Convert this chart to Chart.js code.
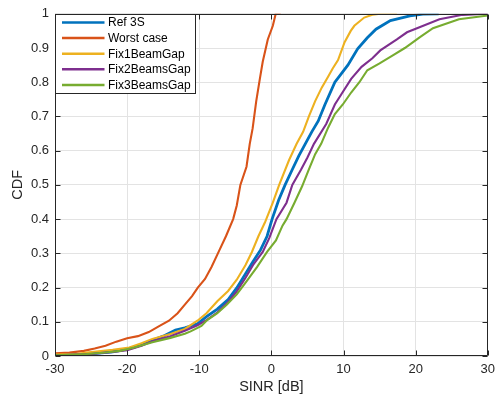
<!DOCTYPE html>
<html>
<head>
<meta charset="utf-8">
<script src="https://cdn.jsdelivr.net/npm/chart.js@4/dist/chart.umd.min.js"></script>
<style>
  html, body { margin: 0; padding: 0; background: #fff; }
  #wrap { width: 501px; height: 402px; }
</style>
</head>
<body>
<div id="wrap"><canvas id="cdf" width="501" height="402"></canvas></div>
<script>
// Empirical SINR CDFs: [SINR in dB, cumulative probability]
const ref3S = [[-30,0.002],[-27,0.004],[-25,0.006],[-22,0.012],[-20,0.02],[-18,0.032],[-16.5,0.046],[-15,0.058],[-13.3,0.076],[-12,0.082],[-11,0.089],[-10.25,0.094],[-9,0.115],[-7.5,0.137],[-6,0.165],[-4.8,0.199],[-3.6,0.24],[-2.54,0.276],[-1.5,0.31],[-0.6,0.35],[0.1,0.4],[1.0,0.455],[1.9,0.5],[2.9,0.545],[3.8,0.585],[4.7,0.62],[5.6,0.655],[6.5,0.687],[7.43,0.735],[8.8,0.8],[10.6,0.85],[11.96,0.898],[13.3,0.93],[14.5,0.955],[16.5,0.98],[19.2,0.994],[21,0.999],[23.2,1.0]];
const worstCase = [[-30,0.008],[-28,0.01],[-26,0.015],[-24.5,0.022],[-23,0.03],[-21.5,0.042],[-20,0.052],[-18.5,0.058],[-17,0.07],[-15.5,0.088],[-14.2,0.103],[-13,0.125],[-12,0.15],[-11,0.175],[-10.2,0.2],[-9.2,0.225],[-8.3,0.26],[-7.3,0.305],[-6.3,0.35],[-5.3,0.4],[-4.8,0.44],[-4.3,0.5],[-3.45,0.553],[-3.0,0.62],[-2.6,0.665],[-2.1,0.745],[-1.6,0.81],[-1.2,0.86],[-0.5,0.925],[0.2,0.965],[0.6,1.0],[1.3,1.0]];
const fix1BeamGap = [[-30,0.004],[-27,0.006],[-25.6,0.01],[-22,0.018],[-19.7,0.025],[-18,0.037],[-16.5,0.05],[-14,0.064],[-12,0.079],[-10.25,0.103],[-9,0.125],[-7.5,0.16],[-6,0.19],[-4.8,0.223],[-3.6,0.265],[-2.7,0.304],[-1.8,0.35],[-0.9,0.39],[0.2,0.448],[1.08,0.5],[2.44,0.572],[3.5,0.62],[4.4,0.655],[5.2,0.7],[6.07,0.745],[7.0,0.785],[7.88,0.817],[8.5,0.84],[9.24,0.865],[10.15,0.917],[11.0,0.95],[11.5,0.965],[12.87,0.989],[14,0.997],[15.1,1.0],[17.4,1.0]];
const fix2BeamsGap = [[-30,0.002],[-27,0.004],[-25,0.006],[-22,0.012],[-20,0.017],[-18,0.03],[-16.5,0.043],[-14,0.058],[-12,0.074],[-10.25,0.09],[-9,0.105],[-7.5,0.127],[-6,0.158],[-4.8,0.189],[-3.6,0.228],[-2.54,0.266],[-1.2,0.304],[-0.28,0.345],[0.7,0.4],[2.1,0.448],[2.9,0.5],[4.1,0.544],[5.0,0.58],[5.9,0.62],[7.6,0.678],[8.8,0.735],[9.7,0.765],[11.06,0.81],[12.5,0.845],[14,0.87],[15.1,0.893],[17.4,0.925],[18.8,0.946],[20.1,0.957],[23.3,0.984],[26.5,0.997],[30,1.0]];
const fix3BeamsGap = [[-30,0.002],[-25.6,0.006],[-23,0.01],[-21,0.015],[-19,0.025],[-16.5,0.04],[-14,0.053],[-12,0.065],[-11.2,0.072],[-9.7,0.088],[-8.9,0.105],[-7.5,0.125],[-6.2,0.15],[-4.8,0.18],[-3.45,0.218],[-2,0.26],[-0.6,0.304],[0.63,0.338],[1.54,0.381],[2.1,0.4],[3.2,0.448],[4.26,0.496],[5.1,0.54],[6.07,0.59],[6.9,0.62],[7.88,0.668],[8.8,0.707],[9.9,0.735],[11.06,0.77],[12.2,0.8],[13.3,0.835],[15,0.855],[16.95,0.88],[18.5,0.9],[20.6,0.932],[22.4,0.958],[26,0.984],[30,0.995]];

const seriesNames = ['Ref 3S', 'Worst case', 'Fix1BeamGap', 'Fix2BeamsGap', 'Fix3BeamsGap'];
const seriesData = [ref3S, worstCase, fix1BeamGap, fix2BeamsGap, fix3BeamsGap];
const seriesColors = ['#0072BD', '#D95319', '#EDB120', '#7E2F8E', '#77AC30'];

const xTicks = [-30, -20, -10, 0, 10, 20, 30];
const yTicks = [0, 0.1, 0.2, 0.3, 0.4, 0.5, 0.6, 0.7, 0.8, 0.9, 1];

const FONT = "'Liberation Sans', Arial, Helvetica, sans-serif";
const AXIS_COLOR = '#262626';

// Box around the axes with inward tick marks on all four sides
const axesBox = {
  id: 'axesBox',
  afterDatasetsDraw(chart) {
    const { ctx, chartArea: a, scales } = chart;
    const L = Math.round(a.left) + 0.5, R = Math.round(a.right) - 0.5;
    const T = Math.round(a.top) + 0.5, B = Math.round(a.bottom) - 0.5;
    const tl = 5;
    ctx.save();
    ctx.strokeStyle = AXIS_COLOR;
    ctx.lineWidth = 1;
    ctx.beginPath();
    ctx.rect(L, T, R - L, B - T);
    xTicks.forEach(v => {
      const px = Math.round(scales.x.getPixelForValue(v)) + 0.5;
      ctx.moveTo(px, B); ctx.lineTo(px, B - tl);
      ctx.moveTo(px, T); ctx.lineTo(px, T + tl);
    });
    yTicks.forEach(v => {
      const py = Math.round(scales.y.getPixelForValue(v)) + 0.5;
      ctx.moveTo(L, py); ctx.lineTo(L + tl, py);
      ctx.moveTo(R, py); ctx.lineTo(R - tl, py);
    });
    ctx.stroke();
    ctx.restore();
  }
};

// Legend drawn in the upper-left corner of the axes
const insetLegend = {
  id: 'insetLegend',
  afterDraw(chart) {
    const { ctx, chartArea: a } = chart;
    const x0 = Math.round(a.left) + 0.5, y0 = Math.round(a.top) + 0.5;
    const w = 140, h = 79, rowH = 15.6;
    ctx.save();
    ctx.fillStyle = '#ffffff';
    ctx.fillRect(x0, y0, w, h);
    ctx.strokeStyle = AXIS_COLOR;
    ctx.lineWidth = 1;
    ctx.strokeRect(x0, y0, w, h);
    ctx.font = '12px ' + FONT;
    ctx.textBaseline = 'middle';
    ctx.textAlign = 'left';
    chart.data.datasets.forEach((ds, i) => {
      const y = y0 + 8 + i * rowH;
      ctx.strokeStyle = ds.borderColor;
      ctx.lineWidth = 2.5;
      ctx.beginPath();
      ctx.moveTo(x0 + 6.5, y);
      ctx.lineTo(x0 + 49, y);
      ctx.stroke();
      ctx.fillStyle = '#000000';
      ctx.fillText(ds.label, x0 + 52.5, y + 0.5);
    });
    ctx.restore();
  }
};

const datasets = seriesNames.map((name, i) => ({
  label: name,
  data: seriesData[i].map(p => ({ x: p[0], y: p[1] })),
  borderColor: seriesColors[i],
  backgroundColor: seriesColors[i],
  borderWidth: i === 0 ? 2.8 : 2.1,
  pointRadius: 0,
  tension: 0,
  fill: false,
  order: seriesNames.length - i
}));

new Chart(document.getElementById('cdf'), {
  type: 'line',
  data: { datasets },
  options: {
    responsive: false,
    animation: false,
    devicePixelRatio: 1,
    layout: { padding: { left: 0, right: 5, top: 8, bottom: 0 } },
    plugins: { legend: { display: false }, tooltip: { enabled: false } },
    scales: {
      x: {
        type: 'linear',
        min: -30, max: 30,
        afterBuildTicks: s => { s.ticks = xTicks.map(v => ({ value: v })); },
        afterFit: s => { s.height = 46; },
        grid: { color: '#e3e3e3', lineWidth: 1, drawTicks: false },
        border: { display: false },
        ticks: { color: AXIS_COLOR, font: { family: FONT, size: 13 }, padding: 6, maxRotation: 0,
                 callback: v => String(v) },
        title: { display: true, text: 'SINR [dB]', color: AXIS_COLOR,
                 font: { family: FONT, size: 14.5 }, padding: { top: 0, bottom: 6.3 } }
      },
      y: {
        type: 'linear',
        min: 0, max: 1,
        afterBuildTicks: s => { s.ticks = yTicks.map(v => ({ value: v })); },
        afterFit: s => { s.width = 55; },
        grid: { color: '#e3e3e3', lineWidth: 1, drawTicks: false },
        border: { display: false },
        ticks: { color: AXIS_COLOR, font: { family: FONT, size: 13 }, padding: 6,
                 callback: v => String(Math.round(v * 10) / 10) },
        title: { display: true, text: 'CDF', color: AXIS_COLOR,
                 font: { family: FONT, size: 14.5 }, padding: { top: 9.3, bottom: 0 } }
      }
    }
  },
  plugins: [axesBox, insetLegend]
});
</script>
</body>
</html>
